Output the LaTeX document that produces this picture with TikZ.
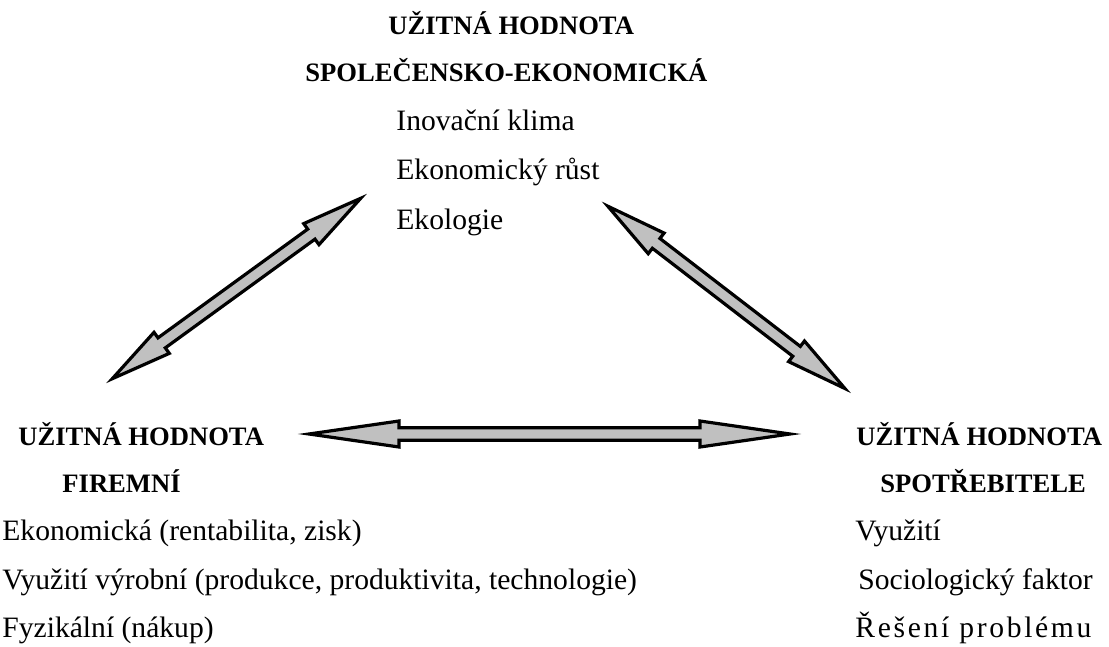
\documentclass[tikz,border=0pt]{standalone}
\usepackage{fontspec}
\setmainfont{Liberation Serif}
\usetikzlibrary{calc}
\definecolor{arrowgray}{RGB}{192,192,192}
\tikzset{
  titletext/.style={anchor=base west, font=\fontsize{13.3pt}{15pt}\selectfont\bfseries, inner sep=0pt},
  itemtext/.style={anchor=base west, font=\fontsize{14.8pt}{17pt}\selectfont, inner sep=0pt},
  fatbody/.style={draw=black, fill=arrowgray, line width=1.6pt, line join=miter, miter limit=20},
}
% #1,#2 end points; #3 head length; #4 head half width; #5 shaft half width
\newcommand{\dblfatarrow}[5]{%
  \coordinate (fa-h1) at ($(#1)!#3!(#2)$);
  \coordinate (fa-h2) at ($(#2)!#3!(#1)$);
  \filldraw[fatbody] (#1)
    -- ($(fa-h1)!#4!90:(#2)$) -- ($(fa-h1)!#5!90:(#2)$)
    -- ($(fa-h2)!#5!-90:(#1)$) -- ($(fa-h2)!#4!-90:(#1)$)
    -- (#2)
    -- ($(fa-h2)!#4!90:(#1)$) -- ($(fa-h2)!#5!90:(#1)$)
    -- ($(fa-h1)!#5!-90:(#2)$) -- ($(fa-h1)!#4!-90:(#2)$)
    -- cycle;
}
\begin{document}
\begin{tikzpicture}[x=0.5pt,y=-0.5pt]
\useasboundingbox (0,0) rectangle (1109,647);
% top
\node[titletext] (t1) at (388,35) {UŽITNÁ HODNOTA};
\node[titletext] (t2) at (305,82) {SPOLEČENSKO-EKONOMICKÁ};
\node[itemtext] (t3) at (396,131) {Inovační klima};
\node[itemtext] (t4) at (396,180) {Ekonomický růst};
\node[itemtext] (t5) at (396,229) {Ekologie};
% left
\node[titletext] (l1) at (18,445) {UŽITNÁ HODNOTA};
\node[titletext] (l2) at (62,492) {FIREMNÍ};
\node[itemtext] (l3) at (2,540) {Ekonomická (rentabilita, zisk)};
\node[itemtext] (l4) at (2,589) {Využití výrobní (produkce, produktivita, technologie)};
\node[itemtext] (l5) at (2,637) {Fyzikální (nákup)};
% right
\node[titletext] (r1) at (856,445) {UŽITNÁ HODNOTA};
\node[titletext] (r2) at (880,492) {SPOTŘEBITELE};
\node[itemtext] (r3) at (855,540) {Využití};
\node[itemtext] (r4) at (858,589) {Sociologický faktor};
\node[itemtext] (r5) at (855,637) {\addfontfeature{LetterSpace=9}Řešení problému};
% arrows
\coordinate (ha) at (309,434);
\coordinate (hb) at (790,434);
\coordinate (la) at (112.3,378.7);
\coordinate (lb) at (360.7,198.3);
\coordinate (ra) at (607.8,206.2);
\coordinate (rb) at (844.9,388.5);
\dblfatarrow{ha}{hb}{45pt}{6.5pt}{3.1pt}
\dblfatarrow{la}{lb}{30.5pt}{6.5pt}{3.1pt}
\dblfatarrow{ra}{rb}{30.5pt}{6.5pt}{3.1pt}
\end{tikzpicture}
\end{document}
